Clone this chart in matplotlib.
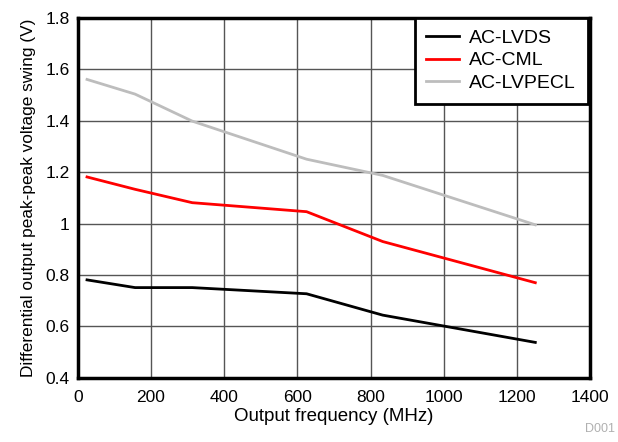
import matplotlib
matplotlib.use("Agg")
import matplotlib.pyplot as plt
from matplotlib.ticker import FuncFormatter

plt.rcParams['font.family'] = ['Liberation Sans', 'DejaVu Sans']

freq = [25, 156.25, 312.5, 625, 833, 1250]
lvds = [0.781, 0.751, 0.751, 0.727, 0.644, 0.538]
cml = [1.181, 1.133, 1.081, 1.046, 0.930, 0.770]
lvpecl = [1.560, 1.503, 1.398, 1.250, 1.187, 0.995]
xticks = [0, 200, 400, 600, 800, 1000, 1200, 1400]
yticks = [0.4, 0.6, 0.8, 1.0, 1.2, 1.4, 1.6, 1.8]

fig = plt.figure(figsize=(6.18, 4.42), dpi=100)
ax = fig.add_axes([0.126, 0.145, 0.829, 0.815])

ax.plot(freq, lvds, color='black', lw=2, label='AC-LVDS')
ax.plot(freq, cml, color='#ff0000', lw=2, label='AC-CML')
ax.plot(freq, lvpecl, color='#bdbdbd', lw=2, label='AC-LVPECL')

ax.set_xlim(0, 1400)
ax.set_ylim(0.4, 1.8)
ax.set_xticks(xticks)
ax.set_yticks(yticks)
ax.yaxis.set_major_formatter(FuncFormatter(lambda v, p: f"{v:g}"))
ax.grid(True, color='#555555', lw=1)
ax.set_axisbelow(True)
ax.tick_params(length=0, labelsize=12.5)
ax.tick_params(axis='x', pad=9)
ax.tick_params(axis='y', pad=6)
for s in ax.spines.values():
    s.set_linewidth(2.5)
    s.set_color('black')

ax.set_xlabel('Output frequency (MHz)', fontsize=13.5, labelpad=2)
ax.set_ylabel('Differential output peak-peak voltage swing (V)', fontsize=12.4, labelpad=7)

leg = ax.legend(loc='upper right', fontsize=14, frameon=True, fancybox=False,
                borderaxespad=0, handlelength=1.7, handletextpad=0.5,
                labelspacing=0.25, borderpad=0.6, bbox_to_anchor=(0.995, 1.0))
leg.get_frame().set_edgecolor('black')
leg.get_frame().set_linewidth(2)
leg.get_frame().set_alpha(1)

fig.text(0.995, 0.015, 'D001', ha='right', va='bottom', fontsize=9, color='#b0b0b0')

fig.savefig('out.png', dpi=100)
